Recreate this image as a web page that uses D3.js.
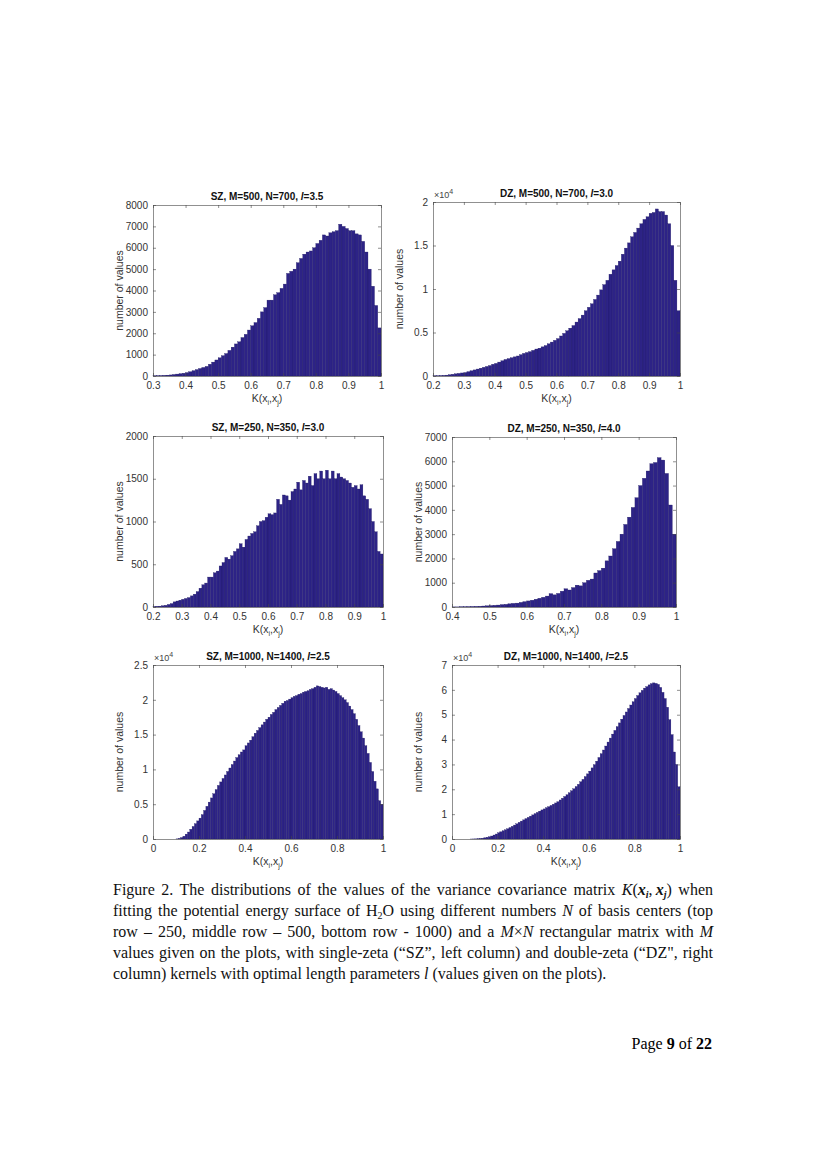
<!DOCTYPE html>
<html lang="en">
<head>
<meta charset="utf-8">
<title>Figure 2</title>
<script src="https://cdn.jsdelivr.net/npm/d3@7"></script>
<style>
  body { margin: 0; background: #fff; }
  #page { position: relative; width: 827px; height: 1169px; }
  svg { position: absolute; left: 0; top: 0; }
  .caption { position: absolute; left: 113px; top: 879px; width: 600px; font-family: "Liberation Serif", serif; font-size: 16px; line-height: 21px; color: #111; }
  .caption .ln { text-align: justify; text-align-last: justify; white-space: nowrap; }
  .caption .ln.last { text-align-last: left; }
  .caption sub { font-size: 10px; line-height: 0; vertical-align: -3px; }
  .pagenum { position: absolute; left: 560px; width: 152px; top: 1035px; text-align: right; font-family: "Liberation Serif", serif; font-size: 16px; }
</style>
</head>
<body>
<div id="page">
  <svg id="chart" width="827" height="1169"></svg>
  <div class="caption">
    <div class="ln">Figure 2. The distributions of the values of the variance covariance matrix <i>K</i>(<b><i>x</i></b><sub><b><i>i</i></b></sub>,&#8201;<b><i>x</i></b><sub><b><i>j</i></b></sub>) when</div>
    <div class="ln">fitting the potential energy surface of H<sub>2</sub>O using different numbers <i>N</i> of basis centers (top</div>
    <div class="ln">row – 250, middle row – 500, bottom row - 1000) and a <i>M</i>×<i>N</i> rectangular matrix with <i>M</i></div>
    <div class="ln">values given on the plots, with single-zeta (“SZ”, left column) and double-zeta (“DZ", right</div>
    <div class="ln last">column) kernels with optimal length parameters <i>l</i> (values given on the plots).</div>
  </div>
  <div class="pagenum">Page <b>9</b> of <b>22</b></div>
</div>
<script>
// histogram counts, bins of width 0.01 starting at the first value of each range
var sz500 = [10,15,20,30,40,50,70,90,110,130,
  160,200,250,300,350,400,450,550,650,750,
  850,950,1050,1200,1350,1500,1600,1800,1950,2150,
  2350,2500,2700,3000,3200,3550,3550,3800,3900,4100,
  4300,4800,4900,5000,5300,5500,5700,5800,5850,6000,
  6200,6350,6600,6550,6700,6750,6800,7100,7000,6900,
  6800,6800,6650,6600,6300,5800,5000,4200,3300,2250];
var dz500 = [20,30,50,70,100,150,200,250,300,350,
  400,500,600,700,800,900,1000,1100,1200,1350,
  1450,1600,1750,1900,2000,2100,2200,2300,2450,2600,
  2700,2800,2950,3100,3200,3350,3500,3700,3900,4100,
  4300,4600,4900,5200,5500,5800,6200,6600,7000,7500,
  7900,8300,8800,9300,9900,10500,11000,11700,12200,12700,
  13200,14000,14700,15300,16000,16500,17000,17500,18000,18300,
  18700,18800,19200,18900,18900,18500,17500,15000,11000,7500];
var sz250 = [5,8,10,15,20,30,40,60,70,80,
  90,100,110,130,150,180,220,260,280,350,
  350,400,420,480,520,580,560,600,650,680,
  740,700,790,830,860,880,950,1000,1010,1050,
  1090,1080,1100,1260,1200,1310,1300,1250,1350,1380,
  1460,1370,1480,1450,1530,1420,1560,1500,1590,1500,
  1600,1500,1590,1500,1560,1520,1500,1480,1450,1400,
  1420,1380,1430,1300,1260,1150,1000,880,650,620];
var dz250 = [5,5,10,10,15,20,25,30,40,50,
  60,70,80,100,110,130,150,160,190,220,
  250,280,320,360,400,450,550,500,560,650,
  750,700,800,900,870,1000,1100,1150,1400,1500,
  1600,1900,2100,2400,2700,3000,3400,3700,4100,4500,
  5000,5300,5600,5900,5950,6150,6050,5500,4200,3000];
var sz1000 = [0,0,0,0,0,0,0,0,0,0,
  20,80,200,400,700,1000,1400,1800,2200,2600,
  3000,3500,4100,4700,5300,5900,6500,7100,7700,8200,
  8700,9200,9700,10200,10700,11200,11700,12100,12500,12800,
  13400,13800,14200,14700,15200,15600,16000,16400,16800,17200,
  17500,17900,18200,18600,18900,19200,19500,19800,19900,20100,
  20300,20500,20600,20800,20900,21100,21200,21300,21500,21600,
  21800,22000,21900,21800,21700,21800,21500,21600,21400,21200,
  20900,20600,20300,20000,19600,19100,18600,18000,17200,16300,
  15400,14500,13400,12300,11000,9700,8300,7200,5500,5000];
var dz1000 = [0,0,0,0,0,0,0,0,10,30,
  60,100,200,300,500,700,900,1200,1600,2000,
  2500,2900,3300,3700,4100,4600,5100,5600,6100,6700,
  7200,7700,8200,8700,9200,9700,10200,10700,11200,11700,
  12100,12600,13000,13500,14000,14500,15000,15700,16400,17100,
  17800,18600,19400,20200,21100,22000,23000,24000,25100,26200,
  27300,28600,29900,31300,32800,34300,35800,37400,39000,40600,
  42200,43700,45200,46700,48200,49700,51100,52500,53900,55200,
  56500,57700,58800,59800,60700,61300,62000,62500,62800,62600,
  62200,61000,59000,56500,53000,48000,42000,35000,30000,21000];

var titles = ["SZ, M=500, N=700, ", "DZ, M=500, N=700, ", "SZ, M=250, N=350, ",
              "DZ, M=250, N=350, ", "SZ, M=1000, N=1400, ", "DZ, M=1000, N=1400, "];
var lengths = ["3.5", "3.0", "3.0", "4.0", "2.5", "2.5"];
var xStarts = [0.3, 0.2, 0.2, 0.4, 0, 0];
var yMaxes = [8000, 20000, 2000, 7000, 25000, 70000];
var yTicks = [[0,1000,2000,3000,4000,5000,6000,7000,8000],
              [0,5000,10000,15000,20000],
              [0,500,1000,1500,2000],
              [0,1000,2000,3000,4000,5000,6000,7000],
              [0,5000,10000,15000,20000,25000],
              [0,10000,20000,30000,40000,50000,60000,70000]];
var xTicks = [[0.3,0.4,0.5,0.6,0.7,0.8,0.9,1],
              [0.2,0.3,0.4,0.5,0.6,0.7,0.8,0.9,1],
              [0.2,0.3,0.4,0.5,0.6,0.7,0.8,0.9,1],
              [0.4,0.5,0.6,0.7,0.8,0.9,1],
              [0,0.2,0.4,0.6,0.8,1],
              [0,0.2,0.4,0.6,0.8,1]];
var sci = [false, true, false, false, true, true];
var counts = [sz500, dz500, sz250, dz250, sz1000, dz1000];

// axes boxes on the page: [left, top, right, bottom]
var boxes = [[153,205,381,376],[433,202,680,376],[153,436,383,607],
             [452,437,676,607],[153,665,383,839],[452,665,680,839]];

var svg = d3.select("#chart");
var font = "Liberation Sans, Arial, sans-serif";

counts.forEach(function(vals, i) {
  var b = boxes[i];
  var x = d3.scaleLinear().domain([xStarts[i], 1]).range([b[0], b[2]]);
  var y = d3.scaleLinear().domain([0, yMaxes[i]]).range([b[3], b[1]]);
  var g = svg.append("g");

  g.selectAll("rect").data(vals).enter().append("rect")
    .attr("x", function(d, k) { return x(xStarts[i] + k * 0.01); })
    .attr("width", function(d, k) { return x(xStarts[i] + (k + 1) * 0.01) - x(xStarts[i] + k * 0.01); })
    .attr("y", function(d) { return y(d); })
    .attr("height", function(d) { return b[3] - y(d); })
    .attr("fill", "#2d2386")
    .attr("stroke", "#1c1660")
    .attr("stroke-width", 0.3);

  var tickSize = 3;
  var axisFont = function(sel) {
    sel.selectAll("text").attr("font-family", font).attr("font-size", "10px").attr("fill", "#333");
    sel.selectAll("line").attr("stroke", "#444").attr("stroke-width", 0.6);
    sel.select(".domain").attr("stroke", "#444").attr("stroke-width", 0.6);
  };
  var div = sci[i] ? 10000 : 1;
  g.append("g").attr("transform", "translate(0," + b[3] + ")")
    .call(d3.axisBottom(x).tickValues(xTicks[i]).tickSizeInner(-tickSize).tickSizeOuter(0).tickPadding(6).tickFormat(function(d) { return String(d); }))
    .call(axisFont);
  g.append("g").attr("transform", "translate(" + b[0] + ",0)")
    .call(d3.axisLeft(y).tickValues(yTicks[i]).tickSizeInner(-tickSize).tickSizeOuter(0).tickPadding(5).tickFormat(function(d) { return String(d / div); }))
    .call(axisFont);
  g.append("g").attr("transform", "translate(0," + b[1] + ")")
    .call(d3.axisTop(x).tickValues(xTicks[i]).tickSizeInner(-tickSize).tickSizeOuter(0).tickFormat(""))
    .call(axisFont);
  g.append("g").attr("transform", "translate(" + b[2] + ",0)")
    .call(d3.axisRight(y).tickValues(yTicks[i]).tickSizeInner(-tickSize).tickSizeOuter(0).tickFormat(""))
    .call(axisFont);

  var cx = (b[0] + b[2]) / 2;
  var t = g.append("text").attr("x", cx).attr("y", b[1] - 5)
    .attr("text-anchor", "middle").attr("font-family", font)
    .attr("font-size", "10px").attr("font-weight", "bold").attr("fill", "#111");
  t.append("tspan").text(titles[i]);
  t.append("tspan").attr("font-style", "italic").text("l");
  t.append("tspan").text("=" + lengths[i]);

  if (sci[i]) {
    var s = g.append("text").attr("x", b[0] + 1).attr("y", b[1] - 4)
      .attr("font-family", font).attr("font-size", "9px").attr("fill", "#444");
    s.append("tspan").text("×10");
    s.append("tspan").attr("dy", -4).attr("font-size", "7px").text("4");
  }

  var xl = g.append("text").attr("x", cx).attr("y", b[3] + 26)
    .attr("text-anchor", "middle").attr("font-family", font)
    .attr("font-size", "10.5px").attr("fill", "#333");
  xl.append("tspan").text("K(x");
  xl.append("tspan").attr("dy", 3).attr("font-size", "7px").text("i");
  xl.append("tspan").attr("dy", -3).text(",x");
  xl.append("tspan").attr("dy", 3).attr("font-size", "7px").text("j");
  xl.append("tspan").attr("dy", -3).text(")");

  g.append("text")
    .attr("transform", "translate(" + (b[0] - 30) + "," + ((b[1] + b[3]) / 2) + ") rotate(-90)")
    .attr("text-anchor", "middle").attr("font-family", font)
    .attr("font-size", "10.5px").attr("fill", "#333").text("number of values");
});
</script>
</body>
</html>
